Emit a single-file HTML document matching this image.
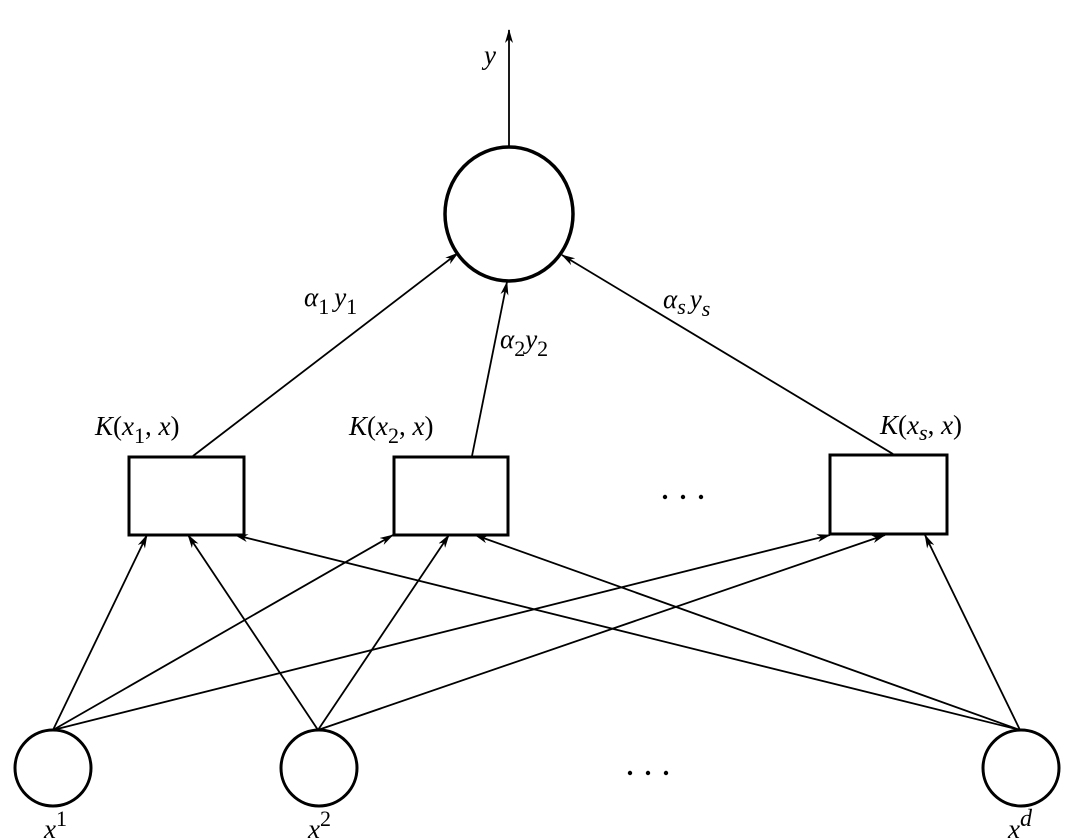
<!DOCTYPE html>
<html><head><style>
html,body{margin:0;padding:0;background:#fff;}
svg{display:block;}
text{font-family:"Liberation Serif",serif;font-style:italic;fill:#000;}
</style></head><body>
<svg width="1075" height="839" viewBox="0 0 1075 839" xmlns="http://www.w3.org/2000/svg">
<defs>
<marker id="a" markerWidth="14" markerHeight="8" refX="13" refY="4" orient="auto" markerUnits="userSpaceOnUse">
<path d="M0,0 L14,4 L0,8 L4,4 Z" fill="#000"/>
</marker>
</defs>
<g stroke="#000" fill="none">
<ellipse cx="509" cy="214" rx="64" ry="67" stroke-width="3.5"/>
<rect x="129" y="457" width="115" height="78" stroke-width="3"/>
<rect x="394" y="457" width="114" height="78" stroke-width="3"/>
<rect x="830" y="455" width="117" height="79" stroke-width="3"/>
<circle cx="53" cy="768" r="38" stroke-width="3"/>
<circle cx="319" cy="768" r="38" stroke-width="3"/>
<circle cx="1021" cy="768" r="38" stroke-width="3"/>
<g stroke-width="1.8" marker-end="url(#a)">
<line x1="509" y1="147" x2="509" y2="30"/>
<line x1="193" y1="456" x2="458" y2="253"/>
<line x1="472" y1="456" x2="507" y2="282"/>
<line x1="893" y1="454" x2="562" y2="255"/>
<line x1="53" y1="730" x2="147" y2="535"/>
<line x1="53" y1="730" x2="393" y2="535"/>
<line x1="53" y1="730" x2="830" y2="535"/>
<line x1="318" y1="730" x2="188" y2="535"/>
<line x1="318" y1="730" x2="449" y2="535"/>
<line x1="318" y1="730" x2="885" y2="535"/>
<line x1="1020" y1="730" x2="235" y2="535"/>
<line x1="1020" y1="730" x2="475" y2="535"/>
<line x1="1020" y1="730" x2="925" y2="535"/>
</g>
</g>
<g font-size="27">
<text x="484" y="64">y</text>
<text x="304" y="306">α<tspan font-size="22" dy="8" font-style="normal">1</tspan><tspan dy="-8" dx="5">y</tspan><tspan font-size="22" dy="8" font-style="normal">1</tspan></text>
<text x="500" y="348">α<tspan font-size="22" dy="8" font-style="normal">2</tspan><tspan dy="-8">y</tspan><tspan font-size="22" dy="8" font-style="normal">2</tspan></text>
<text x="663" y="308">α<tspan font-size="22" dy="6">s</tspan><tspan dy="-6" dx="4">y</tspan><tspan font-size="22" dy="8">s</tspan></text>
<text x="95" y="435">K<tspan font-style="normal">(</tspan>x<tspan font-size="22" dy="8" font-style="normal">1</tspan><tspan dy="-8" font-style="normal">, </tspan>x<tspan font-style="normal">)</tspan></text>
<text x="349" y="435">K<tspan font-style="normal">(</tspan>x<tspan font-size="22" dy="8" font-style="normal">2</tspan><tspan dy="-8" font-style="normal">, </tspan>x<tspan font-style="normal">)</tspan></text>
<text x="880" y="434">K<tspan font-style="normal">(</tspan>x<tspan font-size="22" dy="6">s</tspan><tspan dy="-6" font-style="normal">, </tspan>x<tspan font-style="normal">)</tspan></text>
<text x="44" y="838">x<tspan font-size="22" dy="-12" font-style="normal">1</tspan></text>
<text x="308" y="838">x<tspan font-size="22" dy="-12" font-style="normal">2</tspan></text>
<text x="1008" y="838">x<tspan font-size="24" dy="-12">d</tspan></text>
</g>
<g fill="#000">
<circle cx="665" cy="497" r="2.2"/><circle cx="683" cy="497" r="2.2"/><circle cx="701" cy="497" r="2.2"/>
<circle cx="630" cy="773" r="2.2"/><circle cx="648" cy="773" r="2.2"/><circle cx="666" cy="773" r="2.2"/>
</g>
</svg>
</body></html>
